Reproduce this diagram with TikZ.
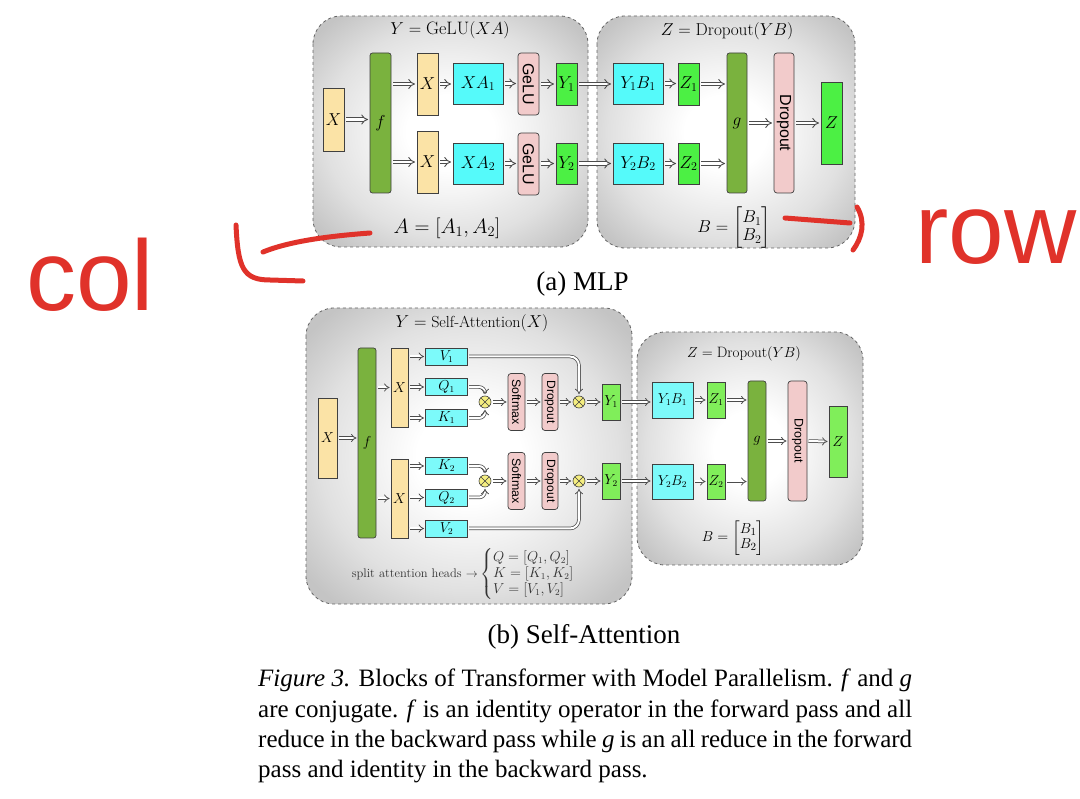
\documentclass[tikz,border=0pt]{standalone}
\usepackage{amsmath}
\usepackage{graphicx}
\usepackage{fontspec}
\newfontfamily\timesfont{Liberation Serif}
\newfontfamily\arialfont{Liberation Sans}
\usetikzlibrary{arrows.meta}
\definecolor{cyel}{HTML}{FBE3A6}
\definecolor{cdg}{HTML}{7AB23E}
\definecolor{ccya}{HTML}{55FAFA}
\definecolor{ccyb}{HTML}{7CFAFA}
\definecolor{cpk}{HTML}{F2CBCB}
\definecolor{cgra}{HTML}{4CF044}
\definecolor{cgrb}{HTML}{80EE5A}
\definecolor{cotm}{HTML}{F5EE80}
\definecolor{cred}{HTML}{E0322A}
\pgfdeclareradialshading{panshade}{\pgfpoint{0bp}{0bp}}{color(0bp)=(white); color(8bp)=(white); color(23bp)=(black!12); color(32bp)=(black!23); color(50bp)=(black!23)}
\newcommand{\fsz}[1]{\fontsize{#1}{#1}\selectfont}
\tikzset{
  bx/.style={draw=black!75, line width=0.7pt, inner sep=0pt, outer sep=0pt},
  yel/.style={bx, fill=cyel},
  dg/.style={bx, fill=cdg, rounded corners=2.5pt},
  cya/.style={bx, fill=ccya},
  cyb/.style={bx, fill=ccyb},
  pk/.style={bx, fill=cpk, rounded corners=3pt},
  gra/.style={bx, fill=cgra},
  grb/.style={bx, fill=cgrb},
  otm/.style={circle, draw=black!75, line width=0.6pt, fill=cotm, minimum size=12pt, inner sep=0pt,
    path picture={\draw[line width=0.6pt] (path picture bounding box.north west)--(path picture bounding box.south east)
      (path picture bounding box.north east)--(path picture bounding box.south west);}},
  ar/.style={draw=black!70, line width=0.9pt, double=white, double distance=2.6pt, -{Implies[scale=1.25]}, shorten <=2pt, shorten >=2pt},
  arb/.style={draw=black!70, line width=0.75pt, double=white, double distance=2pt, -{Implies[scale=1.2]}, shorten <=1.5pt, shorten >=1.5pt},
  panel/.style={draw=black!60, dashed, line width=0.8pt, rounded corners=28pt, shade, shading=panshade},
  labA/.style={font=\fsz{18}},
  labB/.style={font=\fsz{13.5}},
  redink/.style={draw=cred, line width=5pt, line cap=round, line join=round},
  redtxt/.style={text=cred, font=\arialfont\fsz{100}, inner sep=0pt}
}
\begin{document}
\begin{tikzpicture}[x=1pt, y=-1pt]
\useasboundingbox (0,0) rectangle (1080,799);

% ---------------- panel (a) ----------------
\path[panel] (313,16) rectangle (588,247);
\path[panel] (597,16) rectangle (855,248);

\node[font=\fsz{18}] (ta) at (450,30) {$Y=\mathrm{GeLU}(XA)$};
\node[font=\fsz{20}] (la) at (447,228) {$A=[A_1,A_2]$};
\node[font=\fsz{17.28}] (tb) at (727,31) {$Z=\mathrm{Dropout}(YB)$};
\node[font=\fsz{18}] (lb) at (734,228) {$B=\begin{bmatrix}B_1\\B_2\end{bmatrix}$};

\node[yel, labA, minimum width=21pt, minimum height=63pt] (xa) at (333.5,119.5) {$X$};
\node[dg, labA, minimum width=21pt, minimum height=140pt] (fa) at (380.5,123) {$f$};
\node[yel, labA, minimum width=21pt, minimum height=62pt] (xa1) at (427.5,84) {$X$};
\node[yel, labA, minimum width=21pt, minimum height=62pt] (xa2) at (427.5,162) {$X$};
\node[cya, labA, minimum width=50pt, minimum height=41pt] (ca1) at (478,83.5) {$XA_1$};
\node[cya, labA, minimum width=50pt, minimum height=41pt] (ca2) at (478,163.5) {$XA_2$};
\node[pk, font=\arialfont\fsz{16}, minimum width=21pt, minimum height=62pt] (ga1) at (528.5,84) {\rotatebox{-90}{GeLU}};
\node[pk, font=\arialfont\fsz{16}, minimum width=21pt, minimum height=62pt] (ga2) at (528.5,164) {\rotatebox{-90}{GeLU}};
\node[gra, labA, minimum width=21pt, minimum height=42pt] (ya1) at (566.5,84) {$Y_1$};
\node[gra, labA, minimum width=21pt, minimum height=41pt] (ya2) at (566.5,163.5) {$Y_2$};
\node[cya, labA, minimum width=50pt, minimum height=41pt] (ba1) at (638,83.5) {$Y_1B_1$};
\node[cya, labA, minimum width=50pt, minimum height=41pt] (ba2) at (638,163.5) {$Y_2B_2$};
\node[gra, labA, minimum width=21pt, minimum height=42pt] (za1) at (688.5,84) {$Z_1$};
\node[gra, labA, minimum width=21pt, minimum height=41pt] (za2) at (688.5,163.5) {$Z_2$};
\node[dg, labA, minimum width=20pt, minimum height=140pt] (gga) at (737,123) {$g$};
\node[pk, font=\arialfont\fsz{16}, minimum width=20pt, minimum height=140pt] (da) at (784,123) {\rotatebox{-90}{Dropout}};
\node[gra, labA, minimum width=21pt, minimum height=82pt] (zza) at (831.5,123) {$Z$};

\draw[ar] (xa.east) -- (fa.west |- xa.east);
\draw[ar] (fa.east |- xa1.west) -- (xa1.west);
\draw[ar] (fa.east |- xa2.west) -- (xa2.west);
\draw[ar] (xa1.east) -- (ca1.west |- xa1.east);
\draw[ar] (xa2.east) -- (ca2.west |- xa2.east);
\draw[ar] (ca1.east) -- (ga1.west |- ca1.east);
\draw[ar] (ca2.east) -- (ga2.west |- ca2.east);
\draw[ar] (ga1.east) -- (ya1.west |- ga1.east);
\draw[ar] (ga2.east |- ya2.west) -- (ya2.west);
\draw[ar] (ya1.east) -- (ba1.west |- ya1.east);
\draw[ar] (ya2.east) -- (ba2.west |- ya2.east);
\draw[ar] (ba1.east) -- (za1.west |- ba1.east);
\draw[ar] (ba2.east) -- (za2.west |- ba2.east);
\draw[ar] (za1.east) -- (gga.west |- za1.east);
\draw[ar] (za2.east) -- (gga.west |- za2.east);
\draw[ar] (gga.east) -- (da.west);
\draw[ar] (da.east) -- (zza.west);

\node[font=\timesfont\fsz{27}] (capa) at (582.5,284) {(a) MLP};

% ---------------- panel (b) ----------------
\path[panel] (306,308) rectangle (632,604);
\path[panel] (637,332) rectangle (863,565);

\node[font=\fsz{16}] (tc) at (472,323) {$Y=\text{Self-Attention}(X)$};
\node[font=\fsz{15}] (td) at (744,354) {$Z=\mathrm{Dropout}(YB)$};
\node[font=\fsz{15}] (ld) at (733,538) {$B=\begin{bmatrix}B_1\\B_2\end{bmatrix}$};

\node[yel, labB, minimum width=19pt, minimum height=80pt] (xb) at (327.5,438) {$X$};
\node[dg, labB, minimum width=18pt, minimum height=190pt] (fb) at (367,443) {$f$};
\node[yel, labB, minimum width=17pt, minimum height=79pt] (xb1) at (399.5,387.5) {$X$};
\node[yel, labB, minimum width=17pt, minimum height=79pt] (xb2) at (399.5,498.5) {$X$};
\node[cyb, labB, minimum width=42pt, minimum height=17pt] (v1) at (446.5,356.5) {$V_1$};
\node[cyb, labB, minimum width=42pt, minimum height=17pt] (q1) at (446.5,387) {$Q_1$};
\node[cyb, labB, minimum width=42pt, minimum height=17pt] (k1) at (446.5,418) {$K_1$};
\node[cyb, labB, minimum width=42pt, minimum height=17pt] (k2) at (446.5,466) {$K_2$};
\node[cyb, labB, minimum width=42pt, minimum height=17pt] (q2) at (446.5,497.5) {$Q_2$};
\node[cyb, labB, minimum width=42pt, minimum height=17pt] (v2) at (446.5,528.5) {$V_2$};
\node[otm] (m1) at (485,402) {};
\node[otm] (m2) at (485,481) {};
\node[pk, font=\arialfont\fsz{12.3}, minimum width=17pt, minimum height=57pt] (sm1) at (516.5,402) {\rotatebox{-90}{Softmax}};
\node[pk, font=\arialfont\fsz{12.3}, minimum width=17pt, minimum height=57pt] (sm2) at (516.5,481) {\rotatebox{-90}{Softmax}};
\node[pk, font=\arialfont\fsz{12}, minimum width=16pt, minimum height=57pt] (dr1) at (550,402) {\rotatebox{-90}{Dropout}};
\node[pk, font=\arialfont\fsz{12}, minimum width=16pt, minimum height=57pt] (dr2) at (550,481) {\rotatebox{-90}{Dropout}};
\node[otm] (n1) at (579,402) {};
\node[otm] (n2) at (579,481) {};
\node[grb, labB, minimum width=18pt, minimum height=36pt] (yb1) at (611,402) {$Y_1$};
\node[grb, labB, minimum width=18pt, minimum height=36pt] (yb2) at (611,481) {$Y_2$};
\node[cyb, labB, minimum width=41pt, minimum height=36pt] (bb1) at (672.5,400) {$Y_1B_1$};
\node[cyb, labB, minimum width=41pt, minimum height=35pt] (bb2) at (672.5,481.5) {$Y_2B_2$};
\node[grb, labB, minimum width=18pt, minimum height=36pt] (zb1) at (716,400) {$Z_1$};
\node[grb, labB, minimum width=18pt, minimum height=35pt] (zb2) at (716,481.5) {$Z_2$};
\node[dg, labB, minimum width=18pt, minimum height=120pt] (gb) at (757,441) {$g$};
\node[pk, font=\arialfont\fsz{12.5}, minimum width=19pt, minimum height=120pt] (db) at (797.5,441) {\rotatebox{-90}{Dropout}};
\node[grb, labB, minimum width=18pt, minimum height=71pt] (zzb) at (838,441.5) {$Z$};

\draw[arb] (xb.east) -- (fb.west |- xb.east);
\draw[arb] (fb.east |- xb1.west) -- (xb1.west);
\draw[arb] (fb.east |- xb2.west) -- (xb2.west);
\draw[arb] (xb1.east |- v1.west) -- (v1.west);
\draw[arb] (xb1.east |- q1.west) -- (q1.west);
\draw[arb] (xb1.east |- k1.west) -- (k1.west);
\draw[arb] (xb2.east |- k2.west) -- (k2.west);
\draw[arb] (xb2.east |- q2.west) -- (q2.west);
\draw[arb] (xb2.east |- v2.west) -- (v2.west);
\draw[arb, rounded corners=6pt] (q1.east) -| (m1.north);
\draw[arb, rounded corners=6pt] (k1.east) -| (m1.south);
\draw[arb, rounded corners=6pt] (k2.east) -| (m2.north);
\draw[arb, rounded corners=6pt] (q2.east) -| (m2.south);
\draw[arb, rounded corners=9pt] (v1.east) -| (n1.north);
\draw[arb, rounded corners=9pt] (v2.east) -| (n2.south);
\draw[arb] (m1.east) -- (sm1.west);
\draw[arb] (m2.east) -- (sm2.west);
\draw[arb] (sm1.east) -- (dr1.west);
\draw[arb] (sm2.east) -- (dr2.west);
\draw[arb] (dr1.east) -- (n1.west);
\draw[arb] (dr2.east) -- (n2.west);
\draw[arb] (n1.east) -- (yb1.west);
\draw[arb] (n2.east) -- (yb2.west);
\draw[arb] (yb1.east) -- (bb1.west |- yb1.east);
\draw[arb] (yb2.east) -- (bb2.west |- yb2.east);
\draw[arb] (bb1.east) -- (zb1.west);
\draw[arb] (bb2.east) -- (zb2.west);
\draw[arb] (zb1.east) -- (gb.west |- zb1.east);
\draw[arb] (zb2.east) -- (gb.west |- zb2.east);
\draw[arb] (gb.east) -- (db.west);
\draw[arb] (db.east) -- (zzb.west);

\node[anchor=east, inner sep=0pt, font=\fsz{12.5}, text=black!80] (sah) at (478,574) {split attention heads $\rightarrow$};
\node[anchor=west, inner sep=0pt, font=\fsz{13.5}, text=black!80] (cs) at (480,574) {$\begin{cases}Q=[Q_1,Q_2]\\K=[K_1,K_2]\\V=[V_1,V_2]\end{cases}$};

\node[font=\timesfont\fsz{27}] (capb) at (584,637) {(b) Self-Attention};

% ---------------- caption ----------------
\node[anchor=north west, inner sep=0pt, text width=654pt, align=justify,
      font=\timesfont\fontsize{25}{30.3}\selectfont] (fig) at (258,669)
 {\textit{Figure 3.} Blocks of Transformer with Model Parallelism. \textit{f} and \textit{g}\linebreak
  are conjugate. \textit{f} is an identity operator in the forward pass and all\linebreak
  reduce in the backward pass while \textit{g} is an all reduce in the forward\linebreak
  pass and identity in the backward pass.};

% ---------------- red annotations ----------------
\node[redtxt, anchor=base] (col) at (90,311) {col};
\node[redtxt, anchor=base] (row) at (996,264) {row};
\draw[redink] (236,225) .. controls (238,268) and (243,280) .. (270,280) -- (303,281);
\draw[redink] (263,252) .. controls (290,241) and (330,236) .. (370,233);
\draw[redink] (785,218) -- (850,223);
\draw[redink] (857,207) .. controls (866,222) and (862,238) .. (853,250);
\end{tikzpicture}
\end{document}
